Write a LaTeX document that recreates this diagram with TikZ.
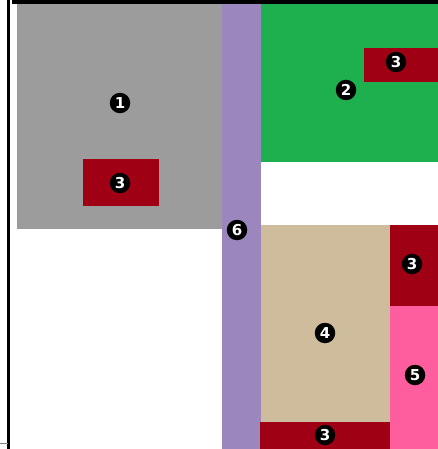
\documentclass[tikz,border=0pt]{standalone}
\usepackage{fontspec}
\setmainfont{DejaVu Sans}
\definecolor{cgray}{RGB}{156,156,156}
\definecolor{cgreen}{RGB}{30,176,78}
\definecolor{cpurple}{RGB}{156,134,190}
\definecolor{ctan}{RGB}{206,188,156}
\definecolor{cred}{RGB}{160,0,20}
\definecolor{cpink}{RGB}{255,94,158}
\begin{document}
\begin{tikzpicture}[x=1pt,y=-1pt,
  lbl/.style={circle,fill=black,text=white,inner sep=0pt,minimum size=20.5pt,font=\fontsize{15}{15}\selectfont\bfseries}]
\useasboundingbox (0,0) rectangle (438,449);
\fill[white] (0,0) rectangle (438,449);
% frame lines
\fill[black] (7,0) rectangle (10,449);
\fill[black] (12,0) rectangle (438,4);
\draw[gray,line width=0.8pt] (0,443) -- (8,443);
% regions
\fill[cgray] (17,4) rectangle (222,229);
\fill[cred] (83,159) rectangle (159,206);
\fill[cgreen] (261,4) rectangle (438,162);
\fill[cred] (364,48) rectangle (438,82);
\fill[cpurple] (222,4) rectangle (261,449);
\fill[ctan] (261,225) rectangle (390,422);
\fill[cred] (390,225) rectangle (438,306);
\fill[cpink] (390,306) rectangle (438,449);
\fill[cred] (260,422) rectangle (390,449);
% labels
\node[lbl] (n1) at (120,103) {1};
\node[lbl] (n3a) at (120,183) {3};
\node[lbl] (n2) at (346,90) {2};
\node[lbl] (n3b) at (396,62) {3};
\node[lbl] (n6) at (237,230) {6};
\node[lbl] (n3c) at (412,264) {3};
\node[lbl] (n4) at (325,333) {4};
\node[lbl] (n5) at (415,375) {5};
\node[lbl] (n3d) at (325,435) {3};
\end{tikzpicture}
\end{document}
